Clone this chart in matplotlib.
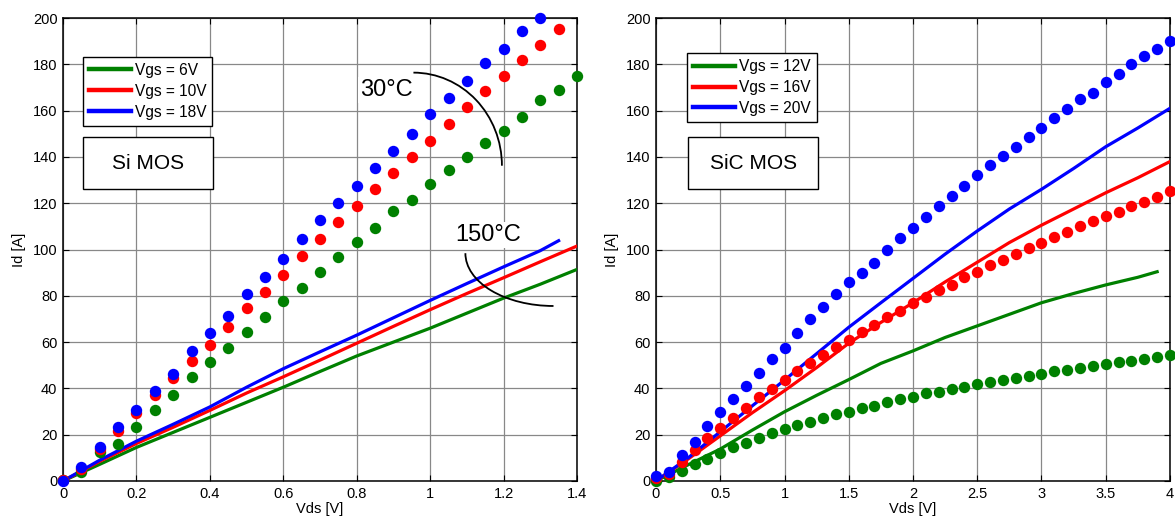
import matplotlib
matplotlib.use("Agg")
import matplotlib.pyplot as plt
from matplotlib.patches import Arc, Rectangle
import numpy as np

plt.rcParams['font.family'] = ['Liberation Sans', 'DejaVu Sans']

# ---------------- Si MOS (left) ----------------
si_x_dots = [0, 0.05, 0.1, 0.15, 0.2, 0.25, 0.3, 0.35, 0.4, 0.45, 0.5, 0.55, 0.6, 0.65,
             0.7, 0.75, 0.8, 0.85, 0.9, 0.95, 1.0, 1.05, 1.1, 1.15, 1.2, 1.25, 1.3, 1.35, 1.4]
si_dots_6 = [0.5, 3.9, 12.4, 16.1, 23.3, 30.8, 37.3, 44.9, 51.3, 57.6, 64.4, 70.8, 77.6, 83.5,
             90.4, 96.8, 103.2, 109.4, 116.5, 121.3, 128.4, 134.2, 140.1, 145.9, 151.2, 157.1,
             164.5, 169.0, 175.0]
si_dots_10 = [0.3, 5.3, 13.7, 21.6, 29.4, 37.0, 44.5, 51.8, 58.9, 66.5, 74.6, 81.8, 89.1, 97.2,
              104.7, 111.9, 118.9, 126.3, 133.2, 139.8, 146.7, 154.2, 161.4, 168.5, 175.1,
              181.7, 188.2, 195.4]
si_dots_18 = [0.0, 6.2, 14.5, 23.2, 30.8, 38.7, 46.4, 56.0, 64.1, 71.4, 80.6, 88.3, 96.0, 104.7,
              112.6, 120.0, 127.4, 135.1, 142.7, 150.0, 158.4, 165.3, 172.7, 180.7, 186.5,
              194.5, 200.0]

si_x_line = [0, 0.1, 0.2, 0.3, 0.4, 0.5, 0.6, 0.7, 0.8, 0.9, 1.0, 1.1, 1.2, 1.3, 1.4]
si_line_6 = [0, 7.2, 14.5, 21.0, 27.5, 34.0, 40.5, 47.3, 54.0, 60.0, 66.0, 72.5, 79.0, 85.0, 91.4]
si_line_10 = [0, 8.5, 16.2, 23.2, 30.5, 38.0, 45.0, 52.2, 59.5, 66.8, 74.0, 81.0, 87.8, 94.7, 101.5]
si_x_line18 = [0, 0.1, 0.2, 0.3, 0.4, 0.5, 0.6, 0.7, 0.8, 0.9, 1.0, 1.1, 1.2, 1.3, 1.35]
si_line_18 = [0, 9.0, 17.2, 24.5, 32.0, 40.5, 48.5, 55.8, 63.0, 70.5, 78.0, 85.3, 92.5, 99.5, 103.8]
si_labels = ['Vgs = 6V', 'Vgs = 10V', 'Vgs = 18V']
si_xticks = [0, 0.2, 0.4, 0.6, 0.8, 1.0, 1.2, 1.4]
si_xticklabels = ['0', '0.2', '0.4', '0.6', '0.8', '1', '1.2', '1.4']

# ---------------- SiC MOS (right) ----------------
sic_x_dots = [round(0.1 * i, 1) for i in range(41)]
sic_dots_12 = [0.0, 1.6, 4.5, 7.3, 9.5, 12.0, 14.6, 16.5, 18.4, 20.9, 22.5, 24.2, 25.6, 27.1,
               28.8, 29.9, 31.4, 32.5, 34.3, 35.3, 36.4, 37.9, 38.6, 39.7, 40.7, 41.9, 42.9,
               43.6, 44.6, 45.4, 46.2, 47.5, 48.0, 48.7, 49.7, 50.5, 51.3, 52.0, 52.7, 53.4, 54.4]
sic_dots_16 = [1.5, 3.0, 8.4, 13.4, 18.4, 22.8, 27.1, 31.4, 36.2, 39.7, 43.6, 47.5, 51.1, 54.4,
               57.8, 60.9, 64.5, 67.4, 70.8, 73.4, 76.8, 79.6, 82.5, 84.7, 88.0, 90.4, 93.3,
               95.5, 98.1, 100.5, 102.7, 105.3, 107.7, 110.2, 112.5, 114.5, 116.3, 118.8,
               120.5, 122.7, 125.4]
sic_dots_20 = [2.3, 3.7, 11.2, 16.7, 23.6, 29.9, 35.3, 41.0, 46.8, 52.7, 57.6, 63.9, 69.8, 75.0,
               80.6, 85.8, 90.0, 94.3, 99.8, 104.8, 109.4, 114.0, 118.8, 123.1, 127.4, 132.1,
               136.4, 140.5, 144.4, 148.7, 152.5, 156.8, 160.6, 164.9, 167.7, 172.5, 175.8,
               180.1, 183.5, 186.8, 190.2]

sic_x_line12 = [0, 0.25, 0.5, 0.75, 1.0, 1.25, 1.5, 1.75, 2.0, 2.25, 2.5, 2.75, 3.0, 3.25, 3.5, 3.75, 3.9]
sic_line_12 = [0, 7.0, 13.8, 22.0, 29.9, 37.0, 43.8, 50.8, 56.2, 62.0, 67.0, 72.0, 77.0, 81.0, 84.7, 88.0, 90.4]
sic_x_line = [0, 0.25, 0.5, 0.75, 1.0, 1.25, 1.5, 1.75, 2.0, 2.25, 2.5, 2.75, 3.0, 3.25, 3.5, 3.75, 4.0]
sic_line_16 = [0, 9.5, 19.5, 29.5, 39.0, 49.0, 59.5, 68.5, 77.0, 86.0, 94.5, 103.0, 110.5, 117.5, 124.5, 131.0, 138.0]
sic_line_20 = [0, 10.0, 21.3, 32.5, 43.6, 55.0, 66.4, 77.0, 87.5, 98.0, 108.0, 117.5, 126.0, 135.0, 144.4, 152.5, 161.0]
sic_labels = ['Vgs = 12V', 'Vgs = 16V', 'Vgs = 20V']
sic_xticks = [0, 0.5, 1, 1.5, 2, 2.5, 3, 3.5, 4]
sic_xticklabels = ['0', '0.5', '1', '1.5', '2', '2.5', '3', '3.5', '4']

yticks = list(range(0, 201, 20))

GREEN, RED, BLUE = '#008000', '#ff0000', '#0000ff'

fig = plt.figure(figsize=(11.75, 5.23), dpi=100)
axL = fig.add_axes([63 / 1175, 42 / 523, 514 / 1175, 463 / 523])
axR = fig.add_axes([656 / 1175, 42 / 523, 514 / 1175, 463 / 523])

LW = 2.3
MS = 8.2


def style(ax, xlim, xticks, xticklabels):
    ax.set_xlim(*xlim)
    ax.set_ylim(0, 200)
    ax.set_xticks(xticks)
    ax.set_xticklabels(xticklabels)
    ax.set_yticks(yticks)
    ax.grid(True, color='#888888', lw=0.9)
    ax.set_axisbelow(True)
    ax.tick_params(direction='in', top=True, right=True, length=4, width=0.8,
                   labelsize=10.5, pad=4, colors='black')
    for s in ax.spines.values():
        s.set_linewidth(1.1)
        s.set_color('black')
    ax.set_xlabel('Vds [V]', fontsize=10.5, labelpad=1)
    ax.set_ylabel('Id [A]', fontsize=10.5, labelpad=5)


def legend(ax, handles, labels, anchor):
    leg = ax.legend(handles, labels, loc='upper left', bbox_to_anchor=anchor,
                    borderaxespad=0, fancybox=False, framealpha=1, edgecolor='black',
                    fontsize=11.2, handlelength=2.7, handletextpad=0.25, borderpad=0.38,
                    labelspacing=0.38)
    leg.get_frame().set_linewidth(1.0)
    for ln in leg.get_lines():
        ln.set_linewidth(3.2)
    leg.set_zorder(10)


def namebox(ax, text, x0, y0, w, h):
    ax.add_patch(Rectangle((x0, y0), w, h, transform=ax.transAxes, facecolor='white',
                           edgecolor='black', lw=1.0, zorder=9))
    ax.text(x0 + w / 2, y0 + h / 2, text, transform=ax.transAxes, ha='center', va='center',
            fontsize=15, zorder=11)


# Left
hL = []
for x, y, c in [(si_x_line, si_line_6, GREEN), (si_x_line, si_line_10, RED),
                (si_x_line18, si_line_18, BLUE)]:
    hL.append(axL.plot(x, y, color=c, lw=LW, zorder=3)[0])
for y, c in [(si_dots_6, GREEN), (si_dots_10, RED), (si_dots_18, BLUE)]:
    axL.plot(si_x_dots[:len(y)], y, 'o', color=c, ms=MS, mec='none', zorder=4, clip_on=False)
style(axL, (0, 1.4), si_xticks, si_xticklabels)
legend(axL, hL, si_labels, (0.039, 0.916))
namebox(axL, 'Si MOS', 0.039, 0.630, 0.252, 0.112)

axL.text(0.882, 168.9, '30°C', fontsize=17, ha='center', va='center', zorder=5,
         bbox=dict(facecolor='white', edgecolor='none', pad=1.5))
axL.add_patch(Arc((0.9545, 136.2), 2 * 0.241, 2 * 40.2, theta1=0, theta2=90,
                  color='black', lw=1.3, zorder=6))
axL.text(1.158, 106.3, '150°C', fontsize=17, ha='center', va='center', zorder=5,
         bbox=dict(facecolor='white', edgecolor='none', pad=1.5))
axL.add_patch(Arc((1.336, 98.4), 2 * 0.240, 2 * 22.8, theta1=180, theta2=270,
                  color='black', lw=1.3, zorder=6))

# Right
hR = []
for x, y, c in [(sic_x_line12, sic_line_12, GREEN), (sic_x_line, sic_line_16, RED),
                (sic_x_line, sic_line_20, BLUE)]:
    hR.append(axR.plot(x, y, color=c, lw=LW, zorder=3)[0])
for y, c in [(sic_dots_12, GREEN), (sic_dots_16, RED), (sic_dots_20, BLUE)]:
    axR.plot(sic_x_dots, y, 'o', color=c, ms=MS, mec='none', zorder=4, clip_on=False)
style(axR, (0, 4), sic_xticks, sic_xticklabels)
legend(axR, hR, sic_labels, (0.061, 0.924))
namebox(axR, 'SiC MOS', 0.0628, 0.6307, 0.253, 0.1117)

fig.savefig('out.png', dpi=100)
